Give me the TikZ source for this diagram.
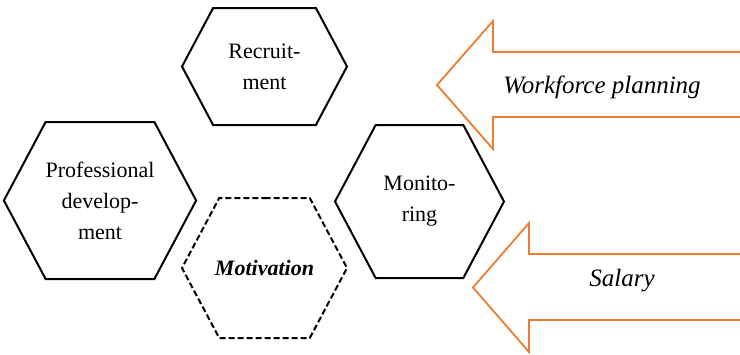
\documentclass[tikz,border=0pt]{standalone}
\usepackage{fontspec}
\setmainfont{Liberation Serif}
\usetikzlibrary{shapes.symbols}
\definecolor{arroworange}{RGB}{237,125,49}
\tikzstyle{hexa}=[draw, line width=2pt, signal, signal to=west and east,
  signal pointer angle=124, inner sep=0pt, align=center,
  font=\fontsize{22}{31}\selectfont]
\tikzstyle{hexa2}=[hexa, dash pattern=on 6pt off 3pt,
  font=\fontsize{22}{31}\selectfont\bfseries\itshape]
\tikzstyle{bigarrow}=[draw=arroworange, line width=1.8pt, fill=white]
\tikzstyle{arrowtext}=[font=\fontsize{25}{30}\selectfont\itshape]

\begin{document}
\begin{tikzpicture}[x=1pt, y=-1pt]
  \useasboundingbox (0,0) rectangle (740,354);

  % input arrows
  \draw[bigarrow] (740,52) -- (493,52) -- (493,21) -- (437,85)
    -- (493,149) -- (493,117) -- (740,117);
  \draw[bigarrow] (740,254) -- (529,254) -- (529,223) -- (473,287.5)
    -- (529,352) -- (529,320) -- (740,320);
  \node[arrowtext] (plan) at (602,87) {Workforce planning};
  \node[arrowtext] (salary) at (622,281) {Salary};

  % hexagons
  \node[hexa, minimum width=165pt, minimum height=117pt] (recruit)
    at (264.5,66.5) {Recruit-\\ment};
  \node[hexa, minimum width=186pt, minimum height=157pt] (prof)
    at (100,200.5) {Professional\\develop-\\ment};
  \node[hexa2, minimum width=165pt, minimum height=140pt] (motiv)
    at (264.5,268) {\makebox[80pt]{Motivation}};
  \node[hexa, minimum width=169pt, minimum height=153pt] (monit)
    at (419.5,201.5) {Monito-\\ring};
\end{tikzpicture}
\end{document}
